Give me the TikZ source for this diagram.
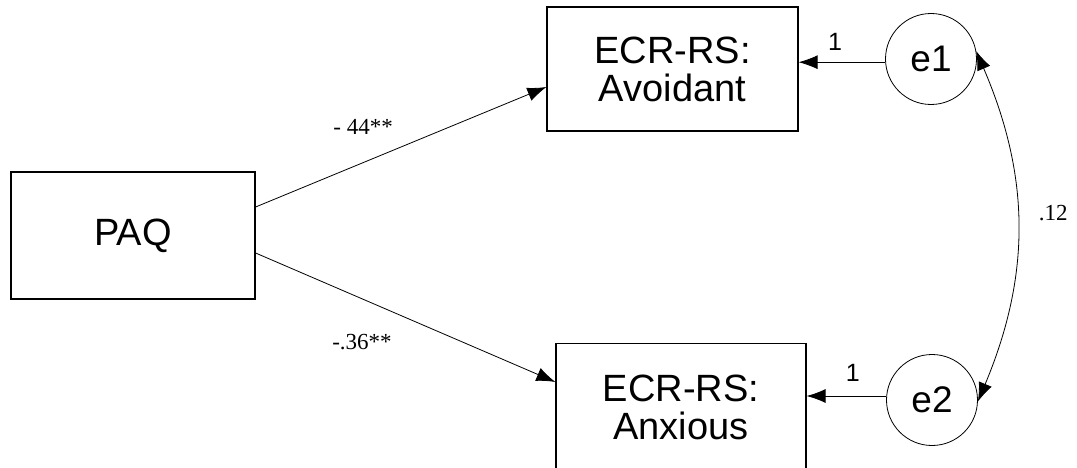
\documentclass[tikz,border=0pt]{standalone}
\usepackage{fontspec}
\setmainfont{Liberation Serif}
\setsansfont{Liberation Sans}
\usetikzlibrary{arrows.meta}

\begin{document}
\begin{tikzpicture}[x=1pt,y=1pt,
        var/.style={draw,line width=1.2pt,inner sep=0pt,align=center,font=\sffamily\fontsize{38}{38}\selectfont},
        err/.style={draw,circle,line width=0.8pt,minimum size=91pt,inner sep=0pt,font=\sffamily\fontsize{37}{37}\selectfont},
        regpath/.style={-{Latex[length=19pt,width=14pt]},line width=0.8pt},
        coef/.style={font=\fontsize{23}{23}\selectfont},
        one/.style={font=\sffamily\fontsize{25}{25}\selectfont}]
        \useasboundingbox (0,0) rectangle (1077,467);

        \node[var,minimum width=244pt,minimum height=127pt] (paq) at (133,231.5) {PAQ};
        \node[var,minimum width=251pt,minimum height=124pt] (avoid) at (672.5,398) {ECR-RS:\\Avoidant};
        \node[var,minimum width=250pt,minimum height=128pt] (anx) at (681,59.5) {ECR-RS:\\Anxious};
        \node[err] (e1) at (931,408) {e1};
        \node[err] (e2) at (932,67) {e2};

        \draw[regpath] ([yshift=28.5pt]paq.east) -- node[coef,pos=0.37,yshift=36pt] (c1) {- 44**} ([yshift=-18pt]avoid.west);
        \draw[regpath] ([yshift=-17.5pt]paq.east) -- node[coef,pos=0.355,yshift=-43pt] (c2) {-.36**} ([yshift=25.5pt]anx.west);

        \draw[regpath] (e1.184) -- node[one,pos=0.58,yshift=20pt] (w1) {1} (e1.184 -| avoid.east);
        \draw[regpath] (e2.175) -- node[one,pos=0.42,yshift=23pt] (w2) {1} (e2.175 -| anx.east);

        \draw[{Latex[length=19pt,width=14pt]}-{Latex[length=19pt,width=14pt]},line width=0.8pt] (e1.10) to[bend left=23] node[coef,pos=0.5,xshift=36pt,yshift=13pt] (r12) {.12} (e2.-2);
\end{tikzpicture}
\end{document}
